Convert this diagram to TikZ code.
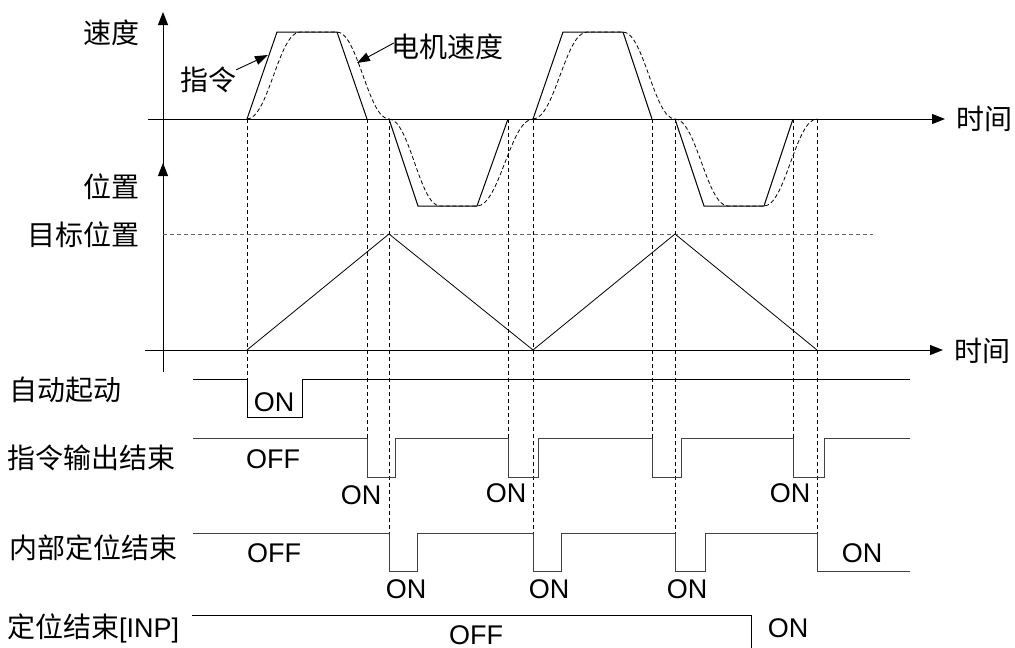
\documentclass[tikz,border=0pt]{standalone}
\usepackage{fontspec}
\setmainfont{Liberation Sans}
\newfontfamily\cjk{Noto Sans CJK SC}
\usetikzlibrary{arrows.meta}
\begin{document}
\begin{tikzpicture}[x=1pt,y=-1pt,
  cj/.style={font=\fontsize{28}{32}\selectfont\cjk, inner sep=0pt},
  lt/.style={font=\fontsize{27}{32}\selectfont, inner sep=0pt},
  axis/.style={line width=1pt,-{Triangle[length=13pt,width=10pt]}},
  cmdline/.style={line width=1pt, line join=miter},
  motor/.style={line width=0.8pt, dash pattern=on 4pt off 2.5pt},
  guide/.style={line width=0.8pt, dash pattern=on 4pt off 3pt},
  target/.style={line width=1pt, black!60, dash pattern=on 4pt off 3pt},
  sig/.style={line width=1pt, black!75},
  sigk/.style={line width=1pt, black},
  callout/.style={line width=0.9pt,-{Triangle[length=13pt,width=9pt]}}]
\useasboundingbox (0,0) rectangle (1015,648);

% dashed guide lines
\foreach \x/\y in {247/379, 367/438, 508/438, 652/438, 793/438, 389/533, 533/533, 675/533, 817/533}
  \draw[guide] (\x,119) -- (\x,\y);

% axes
\draw[axis] (163,168) -- (163,12);
\draw[axis] (148,119) -- (945,119);
\draw[axis] (163,372) -- (163,163);
\draw[axis] (145,350) -- (943,350);

% axis labels
\node[cj, anchor=east] (vlab) at (140,33) {速度};
\node[cj, anchor=east] (plab) at (140,187) {位置};
\node[cj, anchor=east] (tgtlab) at (140,235) {目标位置};
\node[cj, anchor=west] (t1) at (956,119) {时间};
\node[cj, anchor=west] (t2) at (954,351) {时间};

% motor speed (dashed)
\foreach \s/\m/\b/\f/\Y in {247/300/337/389/32, 389/440/477/533/206, 533/587/623/675/32, 675/728/764/817/206}
  \draw[motor] (\s,119) .. controls ({\s+0.4*(\m-\s)},119) and ({\m-0.4*(\m-\s)},\Y) .. (\m,\Y)
    -- (\b,\Y) .. controls ({\b+0.4*(\f-\b)},\Y) and ({\f-0.4*(\f-\b)},119) .. (\f,119);

% command speed (solid)
\foreach \s/\a/\b/\e/\Y in {247/277/337/367/32, 389/418/477/508/206, 533/563/623/652/32, 675/704/764/793/206}
  \draw[cmdline] (\s,119) -- (\a,\Y) -- (\b,\Y) -- (\e,119);

% callouts
\node[cj] (cmdlab) at (208,80) {指令};
\node[cj] (motlab) at (447,47) {电机速度};
\coordinate (cmdtip) at (268,55);
\coordinate (mottip) at (357,63);
\draw[callout] ([yshift=-3pt]cmdlab.north east) -- (cmdtip);
\draw[callout] ([shift={(3pt,4pt)}]motlab.west) -- (mottip);

% position
\draw[target] (163,234) -- (873,234);
\draw[line width=0.8pt] (247,350) -- (389,234) -- (533,350) -- (675,234) -- (817,350);

% signal labels
\node[cj, anchor=west] (s1) at (9,390) {自动起动};
\node[cj, anchor=west] (s2) at (7,458) {指令输出结束};
\node[cj, anchor=west] (s3) at (9,548) {内部定位结束};
\node[lt, anchor=west] (s4) at (7,628) {{\fontsize{28}{32}\selectfont\cjk 定位结束}[INP]};

% auto start
\draw[sigk] (193,379) -- (247,379) -- (247,417) -- (302,417) -- (302,379) -- (910,379);
\node[lt] (on0) at (274,402) {ON};

% command output end
\draw[sig] (193,438) -- (367,438) -- (367,477) -- (395,477) -- (395,438)
  -- (508,438) -- (508,477) -- (538,477) -- (538,438)
  -- (652,438) -- (652,477) -- (681,477) -- (681,438)
  -- (793,438) -- (793,477) -- (824,477) -- (824,438) -- (910,438);
\node[lt] (off1) at (273,459) {OFF};
\node[lt] (on1a) at (361,495) {ON};
\node[lt] (on1b) at (506,493) {ON};
\node[lt] (on1c) at (790,493) {ON};

% internal positioning end
\draw[sig] (193,533) -- (389,533) -- (389,571) -- (417,571) -- (417,533)
  -- (533,533) -- (533,571) -- (561,571) -- (561,533)
  -- (675,533) -- (675,571) -- (705,571) -- (705,533)
  -- (817,533) -- (817,571) -- (910,571);
\node[lt] (off2) at (274,553) {OFF};
\node[lt] (on2a) at (406,589) {ON};
\node[lt] (on2b) at (549,589) {ON};
\node[lt] (on2c) at (687,589) {ON};
\node[lt] (on2d) at (862,553) {ON};

% INP
\draw[sigk] (192,615) -- (751,615) -- (751,648);
\node[lt] (off3) at (476,635) {OFF};
\node[lt] (on3) at (788,628) {ON};
\end{tikzpicture}
\end{document}
